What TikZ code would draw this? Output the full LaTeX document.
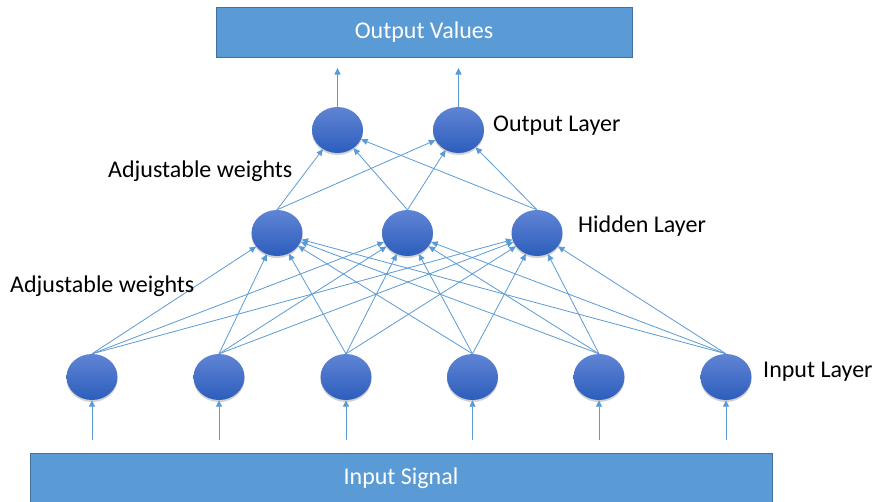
\documentclass[tikz,border=0pt]{standalone}
\usepackage{fontspec}
\setmainfont{Carlito}
\usetikzlibrary{shapes.geometric,arrows.meta,shadows}
\definecolor{boxblue}{RGB}{91,155,213}
\definecolor{boxedge}{RGB}{65,113,156}
\definecolor{edgeblue}{RGB}{91,155,213}
\definecolor{nodetop}{RGB}{96,132,212}
\definecolor{nodebot}{RGB}{44,94,188}
\begin{document}
\begin{tikzpicture}[x=1pt,y=-1pt,
  neuron/.style={ellipse, minimum width=51pt, minimum height=46pt, inner sep=0pt,
    top color=nodetop, bottom color=nodebot, draw=none,
    drop shadow={shadow xshift=0pt, shadow yshift=-2pt, opacity=0.18, fill=black}},
  conn/.style={draw=edgeblue, line width=0.8pt, -{Triangle[length=6.5pt,width=6pt]}},
  bigbox/.style={rectangle, fill=boxblue, draw=boxedge, line width=0.8pt, text=white,
    inner sep=0pt, font=\fontsize{24}{28}\selectfont},
  lbl/.style={anchor=base west, inner sep=0pt, font=\fontsize{24}{28}\selectfont, text=black}]
\useasboundingbox (0,0) rectangle (875,501);
\fill[white] (0,0) rectangle (875,501);
% boxes
\node[bigbox, minimum width=416pt, minimum height=50pt] (ov) at (424,32.5) {Output Values};
\node[bigbox, minimum width=742pt, minimum height=50pt] (is) at (401,478) {Input Signal};
% input layer
\foreach \n/\x in {1/92,2/219,3/346,4/472.5,5/599,6/726}{
  \node[neuron] (i\n) at (\x,377) {};
}
% hidden layer
\foreach \n/\x in {1/277,2/407.5,3/537}{
  \node[neuron] (h\n) at (\x,233) {};
}
% output layer
\foreach \n/\x in {1/337.5,2/458.5}{
  \node[neuron] (o\n) at (\x,130) {};
}
% input arrows
\foreach \n/\x in {1/92,2/219,3/346,4/472.5,5/599,6/726}{
  \coordinate (s\n) at (\x,440);
  \draw[conn] (s\n) -- (i\n.south);
}
% input -> hidden
\foreach \a in {1,...,6}{
  \foreach \b in {1,2,3}{
    \draw[conn] (i\a.north) -- (h\b);
  }
}
% hidden -> output
\foreach \a in {1,2,3}{
  \foreach \b in {1,2}{
    \draw[conn] (h\a.north) -- (o\b);
  }
}
% output arrows
\coordinate (t1) at (337.5,68);
\coordinate (t2) at (458.5,68);
\draw[conn] (o1.north) -- (t1);
\draw[conn] (o2.north) -- (t2);
% labels
\node[lbl] (lo) at (493,131.5) {Output Layer};
\node[lbl] (lh) at (578,232.3) {Hidden Layer};
\node[lbl] (li) at (763,377.7) {Input Layer};
\node[lbl] (lw1) at (108,177.3) {Adjustable weights};
\node[lbl] (lw2) at (10,292.3) {Adjustable weights};
\end{tikzpicture}
\end{document}
